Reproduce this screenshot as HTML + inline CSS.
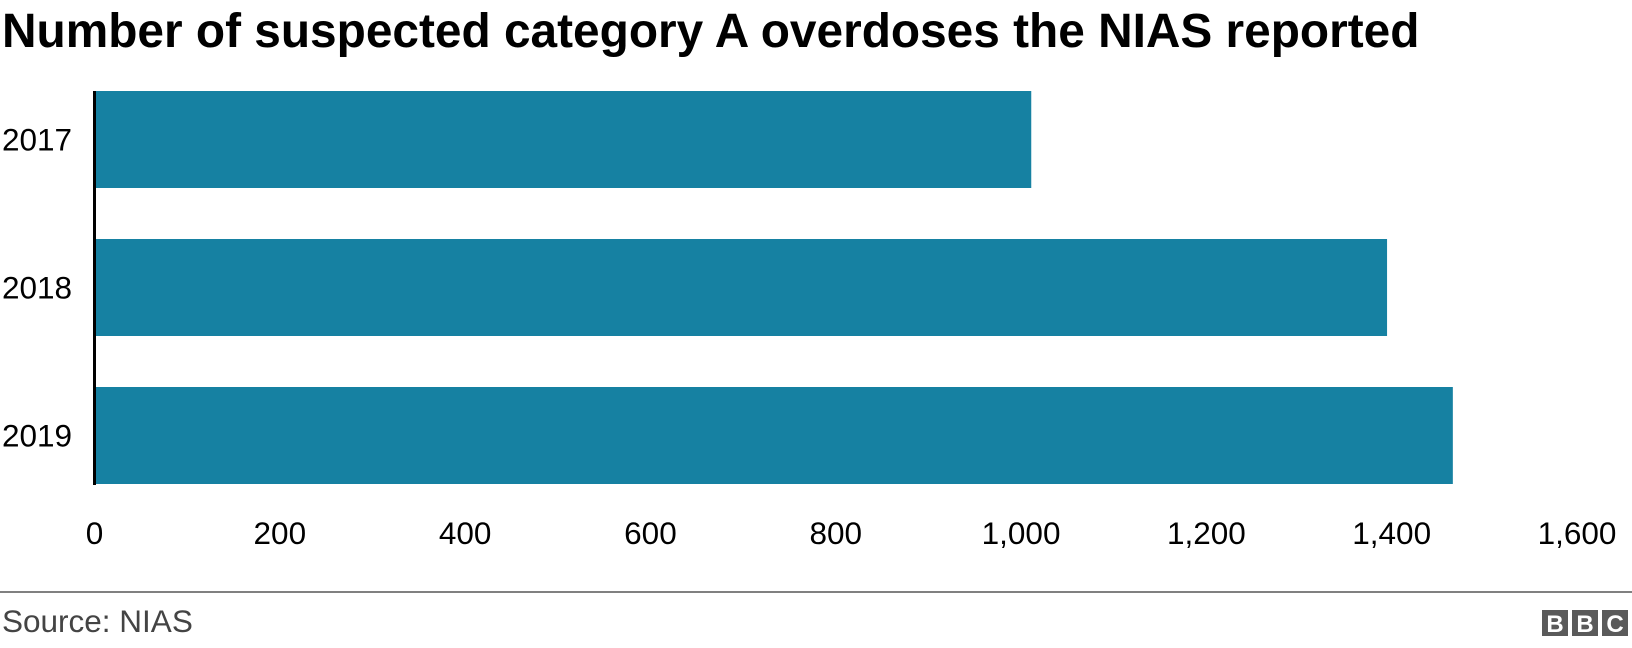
<!DOCTYPE html>
<html><head><meta charset="utf-8">
<style>
body{margin:0;background:#fff;width:1632px;height:648px;overflow:hidden;font-family:"Liberation Sans",Arial,sans-serif;}
</style></head>
<body>
<svg width="1632" height="648" id="chart" style="position:absolute;left:0;top:0">
<text x="2" y="47" font-size="47.8" font-weight="bold" fill="#000">Number of suspected category A overdoses the NIAS reported</text>
<g id="bars"></g>
<g id="xticks"></g>
<g id="ylabels"></g>
<line x1="94.5" y1="91" x2="94.5" y2="485" stroke="#000" stroke-width="3"/>
<line x1="0" y1="592" x2="1632" y2="592" stroke="#808080" stroke-width="2"/>
<text x="2" y="632" font-size="31.5" fill="#444">Source: NIAS</text>
<g>
<rect x="1542" y="610" width="26" height="26" fill="#5a5a5a"/>
<rect x="1572" y="610" width="26" height="26" fill="#5a5a5a"/>
<rect x="1602" y="610" width="26" height="26" fill="#5a5a5a"/>
<text x="1555" y="632" font-size="24" font-weight="bold" fill="#fff" text-anchor="middle">B</text>
<text x="1585" y="632" font-size="24" font-weight="bold" fill="#fff" text-anchor="middle">B</text>
<text x="1615" y="632" font-size="24" font-weight="bold" fill="#fff" text-anchor="middle">C</text>
</g>
</svg>
<script>
const categories=["2017","2018","2019"];
const values=[1011,1395,1466];
const ticks=[0,200,400,600,800,1000,1200,1400,1600];
const tickLabels=["0","200","400","600","800","1,000","1,200","1,400","1,600"];
const NS="http://www.w3.org/2000/svg";
const x0=94.5, x1=1577, xmax=1600;
const xs=v=>x0+(x1-x0)*v/xmax;
const yTop=91, step=148, bh=97;
const yb=i=>yTop+i*step;
const bars=document.getElementById('bars'),xt=document.getElementById('xticks'),yl=document.getElementById('ylabels');
categories.forEach((c,i)=>{
  const r=document.createElementNS(NS,'rect');
  r.setAttribute('x',x0);r.setAttribute('y',yb(i));
  r.setAttribute('width',xs(values[i])-x0);r.setAttribute('height',bh);
  r.setAttribute('fill','#1681a2');
  
  
  bars.appendChild(r);
  const t=document.createElementNS(NS,'text');
  t.setAttribute('x',2);t.setAttribute('y',yb(i)+bh/2+11);
  t.setAttribute('font-size','31.5');t.textContent=c;
  
  
  yl.appendChild(t);
});
ticks.forEach((v,i)=>{
  const t=document.createElementNS(NS,'text');
  t.setAttribute('x',xs(v));t.setAttribute('y',544);
  t.setAttribute('font-size','31.5');t.setAttribute('text-anchor','middle');
  t.textContent=tickLabels[i];
  
  
  xt.appendChild(t);
});
</script>
</body></html>
